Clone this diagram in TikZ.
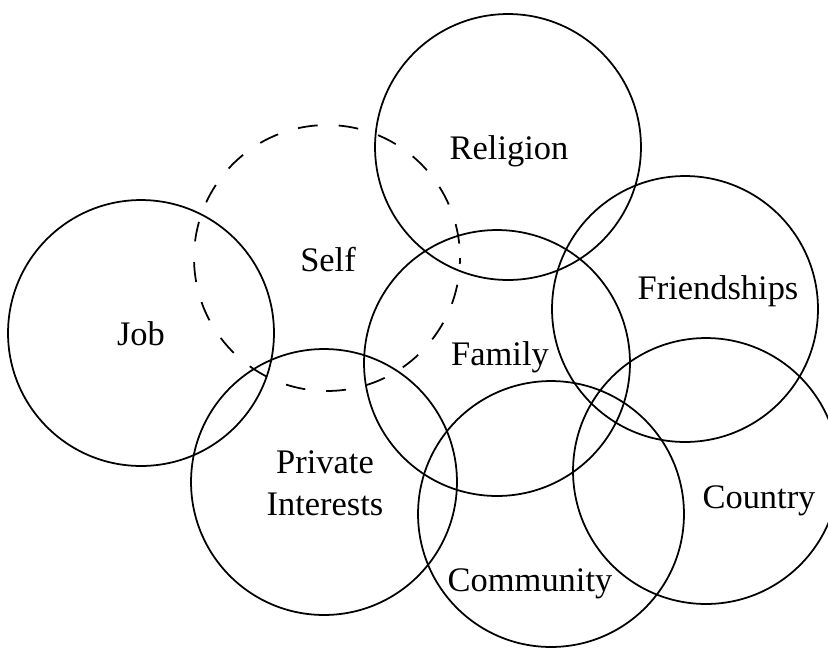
\documentclass[tikz,border=0pt]{standalone}
\usepackage{fontspec}
\setmainfont{Liberation Serif}
\usetikzlibrary{positioning}
\tikzset{
	ring/.style={
		draw, circle, inner sep=0pt, minimum size=5.32cm, line width=1pt
	},
	self ring/.style={
		ring, dash pattern=on 11.3pt off 11.9pt, dash phase=15pt
	},
	area/.style={
		font=\fontsize{19.6}{23.8}\selectfont, inner sep=0pt, anchor=base, align=center
	}
}

\begin{document}
\begin{tikzpicture}[x=0.02cm, y=-0.02cm]
    \useasboundingbox (0,0) rectangle (828,647);
    \clip (0,0) rectangle (828,647);

    \node[ring] (Religion) at (508,147) {};
    \node[ring] (Job) at (141,333) {};
    \node[ring] (Family) at (497,363) {};
    \node[ring] (Friendships) at (685,309) {};
    \node[ring] (PrivateInterests) at (324,482) {};
    \node[ring] (Community) at (551,514) {};
    \node[ring] (Country) at (706,471) {};
    \node[self ring] (Self) at (327,258) {};

    \node[area] (Religion-label) at (509,159) {Religion};
    \node[area] (Self-label) at (328,271) {Self};
    \node[area] (Job-label) at (141,345) {Job};
    \node[area] (Family-label) at (500,365) {Family};
    \node[area] (Friendships-label) at (718,299) {Friendships};
    \node[area] (PrivateInterests-label) at (325,515) {Private\\Interests};
    \node[area] (Community-label) at (530,591) {Community};
    \node[area] (Country-label) at (759,508) {Country};
\end{tikzpicture}
\end{document}
